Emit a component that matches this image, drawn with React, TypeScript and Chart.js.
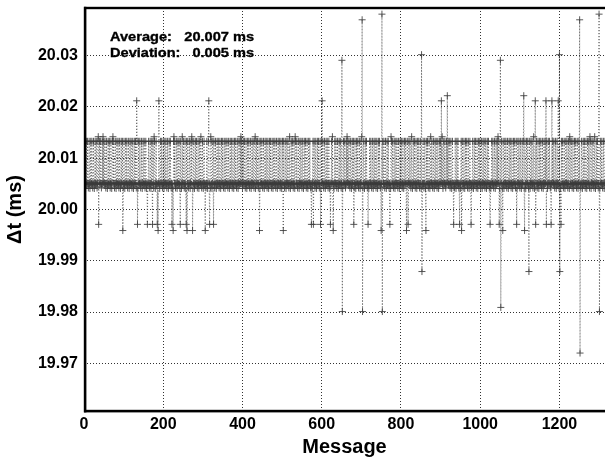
import React, { useEffect, useRef } from "react";
import { Chart, registerables } from "chart.js";

Chart.register(...registerables);

// ---- data ----
const messageCount = 1320;
// repeating base alternation of the message interval (ms)
const baseCycle = [20.0051, 20.0133, 20.005, 20.0041, 20.0052, 20.0133, 20.0049, 20.0051, 20.0133, 20.005, 20.0042];
// spike levels (ms) and the messages that hit each level
const spikeLevels = [
  20.0142, 20.0212, 20.0222, 20.0291, 20.0302, 20.037, 20.0381,
  19.9971, 19.9959, 19.9879, 19.9809, 19.9801, 19.972,
];
const spikeMessages = [
  [36, 48, 73, 177, 227, 248, 272, 295, 320, 396, 432, 519, 533, 627, 664, 701, 775, 827, 875, 904, 1045, 1135, 1226, 1277, 1289, 1316],
  [133, 189, 315, 601, 902, 1139, 1166, 1181, 1197],
  [917, 1110],
  [651, 1051],
  [852, 1200],
  [702, 1251],
  [752, 1300],
  [37, 135, 160, 173, 185, 222, 243, 258, 317, 327, 574, 579, 597, 622, 681, 717, 772, 818, 933, 948, 977, 1025, 1048, 1092, 1140, 1167, 1179, 1204],
  [98, 187, 225, 260, 274, 306, 443, 503, 629, 750, 814, 863, 953, 1057, 1112],
  [853, 1123, 1201],
  [1052],
  [652, 703, 753, 1301],
  [1252],
];
const xTicks = [0, 200, 400, 600, 800, 1000, 1200];
const yTicks = [19.97, 19.98, 19.99, 20.0, 20.01, 20.02, 20.03];
const statLabels = ["Average:", "Deviation:"];
const statValues = ["20.007 ms", "0.005 ms"];

const FONT = "'Liberation Sans', Arial, Helvetica, sans-serif";

function buildSeries() {
  const vals: number[] = [];
  for (let m = 1; m <= messageCount; m++) vals.push(baseCycle[(m - 1) % baseCycle.length]);
  spikeMessages.forEach((list, i) => {
    list.forEach((m) => {
      vals[m - 1] = spikeLevels[i];
    });
  });
  return vals.map((y, i) => ({ x: i + 1, y }));
}

const framePlugin = {
  id: "frame",
  beforeDraw(chart: any) {
    const ctx = chart.ctx;
    ctx.save();
    ctx.fillStyle = "#fff";
    ctx.fillRect(0, 0, chart.width, chart.height);
    ctx.restore();
  },
  afterDatasetsDraw(chart: any) {
    const ctx = chart.ctx;
    const a = chart.chartArea;
    ctx.save();
    ctx.fillStyle = "#000";
    ctx.fillRect(a.left, a.top - 1.2, a.right - a.left, 2.4);
    ctx.fillRect(a.left, a.bottom - 1.2, a.right - a.left, 2.6);
    ctx.fillRect(a.left - 0.2, a.top - 1.2, 2.6, a.bottom - a.top + 2.6);
    // statistics text
    ctx.fillStyle = "#000";
    ctx.strokeStyle = "#000";
    ctx.lineWidth = 0.35;
    ctx.font = `bold 13.5px ${FONT}`;
    ctx.textBaseline = "alphabetic";
    const sx = 1.08;
    const baselines = [40.8, 56.8];
    statLabels.forEach((t, i) => {
      ctx.save();
      ctx.translate(110, baselines[i]);
      ctx.scale(sx, 1);
      ctx.textAlign = "left";
      ctx.fillText(t, 0, 0);
      ctx.strokeText(t, 0, 0);
      ctx.restore();
      ctx.save();
      ctx.translate(254, baselines[i]);
      ctx.scale(sx, 1);
      ctx.textAlign = "right";
      ctx.fillText(statValues[i], 0, 0);
      ctx.strokeText(statValues[i], 0, 0);
      ctx.restore();
    });
    ctx.restore();
  },
};

export default function App() {
  const ref = useRef<HTMLCanvasElement | null>(null);
  useEffect(() => {
    if (!ref.current) return;
    const chart = new Chart(ref.current, {
      type: "line",
      data: {
        datasets: [
          {
            data: buildSeries(),
            borderColor: "rgba(70,70,70,0.8)",
            borderWidth: 1,
            borderDash: [1, 2],
            pointStyle: "cross",
            pointRadius: 3.5,
            pointBorderColor: "rgba(60,60,60,0.85)",
            pointBorderWidth: 1,
            pointBackgroundColor: "rgba(0,0,0,0)",
            tension: 0,
          },
        ],
      },
      options: {
        animation: false,
        responsive: false,
        events: [],
        layout: { padding: { top: 8, right: 0, left: 0, bottom: 0 } },
        plugins: { legend: { display: false }, tooltip: { enabled: false } },
        scales: {
          x: {
            type: "linear",
            min: 0,
            max: 1315,
            afterBuildTicks: (s: any) => {
              s.ticks = xTicks.map((v) => ({ value: v }));
            },
            afterFit: (s: any) => {
              s.height = 48;
              s.paddingLeft = 0;
              s.paddingRight = 0;
            },
            grid: { color: "#333", lineWidth: 1, drawTicks: false },
            border: { display: false, dash: [1, 2] },
            ticks: {
              color: "#000",
              padding: 4,
              maxRotation: 0,
              autoSkip: false,
              font: { family: FONT, size: 16, weight: "bold" },
              callback: (v: any) => String(v),
            },
            title: {
              display: true,
              text: "Message",
              color: "#000",
              font: { family: FONT, size: 20, weight: "bold" },
              padding: { top: 0, bottom: 0 },
            },
          },
          y: {
            type: "linear",
            min: 19.9607,
            max: 20.0393,
            afterBuildTicks: (s: any) => {
              s.ticks = yTicks.map((v) => ({ value: v }));
            },
            afterFit: (s: any) => {
              s.width = 84;
              s.paddingTop = 0;
              s.paddingBottom = 0;
            },
            grid: { color: "#333", lineWidth: 1, drawTicks: false },
            border: { display: false, dash: [1, 2] },
            ticks: {
              color: "#000",
              padding: 6,
              autoSkip: false,
              font: { family: FONT, size: 16, weight: "bold" },
              callback: (v: any) => Number(v).toFixed(2),
            },
            title: {
              display: true,
              text: "Δt (ms)",
              color: "#000",
              font: { family: FONT, size: 20, weight: "bold" },
              padding: { top: 3, bottom: 0 },
            },
          },
        },
      } as any,
      plugins: [framePlugin],
    });
    return () => chart.destroy();
  }, []);
  return (
    <div style={{ position: "absolute", left: 0, top: 0, width: 610, height: 459, overflow: "hidden" }}>
      <canvas ref={ref} width={610} height={459} style={{ display: "block" }} />
    </div>
  );
}
